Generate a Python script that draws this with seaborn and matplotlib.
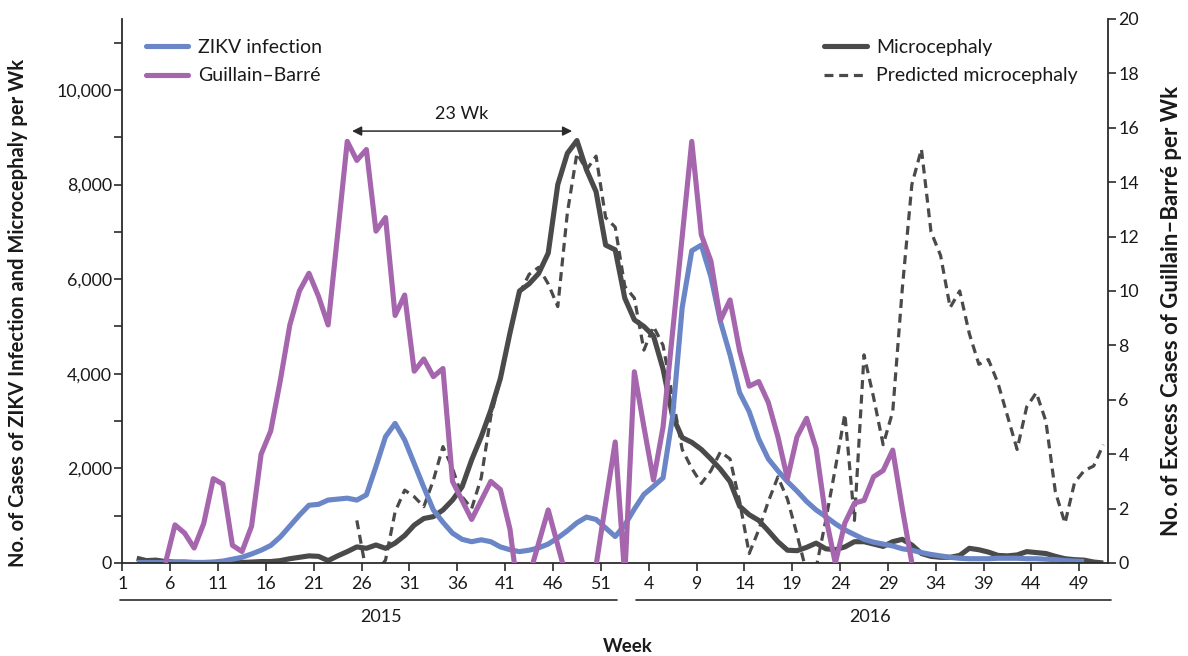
import numpy as np
import pandas as pd
import matplotlib
matplotlib.use("Agg")
import matplotlib.pyplot as plt
from matplotlib.lines import Line2D
import seaborn as sns

nan = np.nan

# Epidemiological weeks: 52 weeks of 2015 followed by 52 weeks of 2016
weeks_2015 = list(range(1, 53))
weeks_2016 = list(range(1, 53))

# Weekly ZIKV infection cases (left axis)
zikv_2015 = [nan, 10, 10, 10, 10, 10, 10, 10, 10, 20, 40, 80, 120, 190, 270, 370,
             550, 780, 1010, 1220, 1240, 1330, 1350, 1370, 1330, 1440, 2040, 2670,
             2950, 2600, 2100, 1600, 1120, 860, 630, 500, 450, 490, 450, 340, 280,
             240, 270, 320, 400, 530, 680, 850, 970, 920, 740, 560]
zikv_2016 = [800, 1140, 1450, 1620, 1800, 3100, 5400, 6600, 6720, 6050, 5100, 4400,
             3600, 3200, 2620, 2200, 1950, 1720, 1520, 1300, 1120, 980, 830, 700,
             600, 500, 440, 400, 360, 300, 270, 220, 180, 150, 120, 100, 90, 90, 90,
             100, 100, 100, 90, 90, 80, 70, 50, 40, 30, nan, nan, nan]

# Weekly microcephaly cases (left axis)
micro_2015 = [nan, 100, 50, 60, 30, 20, 20, 10, 10, 10, 0, 10, 10, 20, 30, 30, 50,
              90, 120, 150, 140, 50, 150, 240, 340, 310, 380, 310, 420, 580, 800,
              940, 980, 1120, 1330, 1610, 2180, 2670, 3230, 3900, 4860, 5750, 5900,
              6120, 6550, 8000, 8660, 8930, 8310, 7850, 6720, 6620]
micro_2016 = [5600, 5140, 5000, 4800, 4100, 3100, 2650, 2550, 2400, 2200, 1980,
              1720, 1200, 1020, 900, 680, 450, 270, 260, 330, 420, 300, 280, 340,
              450, 450, 400, 350, 450, 500, 380, 200, 140, 120, 120, 160, 310, 280,
              230, 160, 150, 170, 240, 220, 200, 140, 90, 70, 60, 20, 0, nan]

# Predicted microcephaly cases (left axis)
pred_2015 = [nan] * 24 + [900, -200, -200, 60, 1080, 1540, 1400, 1190, 1750, 2460,
                          2000, 1400, 1150, 1800, 3100, 3900, 4900, 5700, 6100,
                          6250, 5900, 5420, 7400, 8660, 8310, 8600, 7300, 7100]
pred_2016 = [5850, 5600, 4500, 5000, 4600, 3500, 2400, 2000, 1680, 1950, 2350,
             2200, 1300, 200, 700, 1300, 1820, 1350, 600, -200, -100, 900, 2000,
             3150, 900, 4400, 3500, 2500, 3200, 5800, 8000, 8750, 7000, 6500, 5400,
             5750, 4850, 4200, 4300, 3800, 3100, 2400, 3300, 3600, 3000, 1500, 840,
             1700, 1950, 2050, 2500, nan]

# Weekly excess Guillain-Barré cases (right axis)
gbs_2015 = [nan] * 4 + [0, 1.4, 1.1, 0.55, 1.45, 3.1, 2.9, 0.65, 0.42, 1.35, 4.0,
                        4.85, 6.7, 8.75, 10.0, 10.65, 9.8, 8.75, 12.1, 15.5, 14.8,
                        15.2, 12.2, 12.7, 9.1, 9.85, 7.05, 7.5, 6.85, 7.15, 3.0, 2.3,
                        1.6, 2.3, 3.0, 2.7, 1.25, -1.5, -0.5, 0.73, 1.95, 0.65,
                        -0.65, -1.5, -1.5, -0.1, 2.2, 4.45]
gbs_2016 = [-0.5, 7.03, 5.0, 3.05, 5.0, 8.5, 12.0, 15.5, 12.06, 11.1, 8.93, 9.67,
            7.8, 6.5, 6.67, 5.9, 4.64, 3.1, 4.64, 5.32, 4.2, 1.7, 0, 1.47, 2.2, 2.3,
            3.17, 3.4, 4.15, 2.0, 0] + [nan] * 21

tick_weeks_2015 = [1, 6, 11, 16, 21, 26, 31, 36, 41, 46, 51]
tick_weeks_2016 = [4, 9, 14, 19, 24, 29, 34, 39, 44, 49]

# Continuous week axis; each weekly count sits at the middle of its week
seq = np.arange(1, len(weeks_2015) + len(weeks_2016) + 1)
df = pd.DataFrame({
    "t": seq + 0.5,
    "zikv": zikv_2015 + zikv_2016,
    "micro": micro_2015 + micro_2016,
    "pred": pred_2015 + pred_2016,
    "gbs": gbs_2015 + gbs_2016,
})

BLUE = "#6b86c6"
PURPLE = "#a566ae"
DARK = "#4a4a4a"
INK = "#2b2b2b"
TEXT = "#1a1a1a"
DASH = (0, (2.8, 1.8))

sns.set_theme(style="ticks")
plt.rcParams["font.family"] = ["Lato", "DejaVu Sans"]

fig = plt.figure(figsize=(11.88, 6.56), dpi=100)
ax = fig.add_axes([0.1030, 0.1418, 0.8297, 0.8293])
ax2 = ax.twinx()

sns.lineplot(data=df.dropna(subset=["pred"]), x="t", y="pred", ax=ax, color=DARK,
             linewidth=2.3, linestyle=DASH, errorbar=None)
sns.lineplot(data=df.dropna(subset=["micro"]), x="t", y="micro", ax=ax, color=DARK,
             linewidth=3.7, errorbar=None)
sns.lineplot(data=df.dropna(subset=["zikv"]), x="t", y="zikv", ax=ax, color=BLUE,
             linewidth=3.7, errorbar=None)
sns.lineplot(data=df.dropna(subset=["gbs"]), x="t", y="gbs", ax=ax2, color=PURPLE,
             linewidth=3.7, errorbar=None)
for ln in ax.lines + ax2.lines:
    ln.set_solid_joinstyle("round")
    ln.set_solid_capstyle("butt")

# Axes limits and ticks
ax.set_xlim(1, 104)
ax.set_ylim(0, 11500)
ax2.set_ylim(0, 20)
xt = tick_weeks_2015 + [w + 52 for w in tick_weeks_2016]
ax.set_xticks(xt)
ax.set_xticklabels([str(w) for w in tick_weeks_2015 + tick_weeks_2016])
yt = list(range(0, 11001, 1000))
ax.set_yticks(yt)
ax.set_yticklabels([f"{v:,}" if v % 2000 == 0 else "" for v in yt])
ax2.set_yticks(range(0, 21, 2))
ax.set_xlabel("")
ax.set_ylabel("")
ax2.set_ylabel("")

for a in (ax, ax2):
    a.spines["top"].set_visible(False)
    for s in ("left", "right", "bottom"):
        a.spines[s].set_color(INK)
        a.spines[s].set_linewidth(1.3)
    a.tick_params(axis="both", direction="out", length=5.5, width=1.2,
                  color=INK, labelcolor=TEXT, labelsize=12.8, pad=2)
ax.spines["right"].set_visible(False)
ax2.spines["left"].set_visible(False)
ax2.spines["bottom"].set_visible(False)
ax.tick_params(axis="x", pad=4)

# 23-week lag between the Guillain-Barré and microcephaly peaks
ax.annotate("", xy=(48, 9130), xytext=(25, 9130),
            arrowprops=dict(arrowstyle="<|-|>", color=INK, lw=1.1,
                            mutation_scale=14, shrinkA=0, shrinkB=0))
ax.text(36.5, 9330, "23 Wk", ha="center", va="bottom", fontsize=13, color=TEXT)

# Legends
h_zikv = Line2D([], [], color=BLUE, lw=3.7)
h_gbs = Line2D([], [], color=PURPLE, lw=3.7)
h_micro = Line2D([], [], color=DARK, lw=3.7)
h_pred = Line2D([], [], color=DARK, lw=2.3, linestyle=DASH)
leg_kw = dict(frameon=False, fontsize=14, handlelength=2.2, handletextpad=0.5,
              labelspacing=0.6, borderpad=0, borderaxespad=0, labelcolor=TEXT)
fig.legend([h_zikv, h_gbs], ["ZIKV infection", "Guillain\u2013Barr\u00e9"],
           loc="upper left", bbox_to_anchor=(0.1225, 0.941), **leg_kw)
fig.legend([h_micro, h_pred], ["Microcephaly", "Predicted microcephaly"],
           loc="upper left", bbox_to_anchor=(0.6935, 0.941), **leg_kw)

# Axis titles
fig.text(18 / 1188, 1 - 313 / 656,
         "No. of Cases of ZIKV Infection and Microcephaly per Wk",
         rotation=90, ha="center", va="center", fontsize=14.5,
         fontweight="bold", color=TEXT)
fig.text(1171 / 1188, 1 - 311 / 656,
         "No. of Excess Cases of Guillain\u2013Barr\u00e9 per Wk",
         rotation=90, ha="center", va="center", fontsize=16,
         fontweight="bold", color=TEXT)

# Year brackets under the week axis
for x0, x1, xc, label in ((120, 617, 381, "2015"), (636, 1111, 870, "2016")):
    fig.add_artist(Line2D([x0 / 1188, x1 / 1188], [1 - 600 / 656] * 2,
                          transform=fig.transFigure, color=INK, lw=1.2))
    fig.text(xc / 1188, 1 - 617 / 656, label, ha="center",
             va="center", fontsize=13, color=TEXT)
fig.text(628 / 1188, 1 - 646 / 656, "Week", ha="center", va="center",
         fontsize=13.5, fontweight="bold", color=TEXT)

fig.savefig("out.png", dpi=100, facecolor="white")
